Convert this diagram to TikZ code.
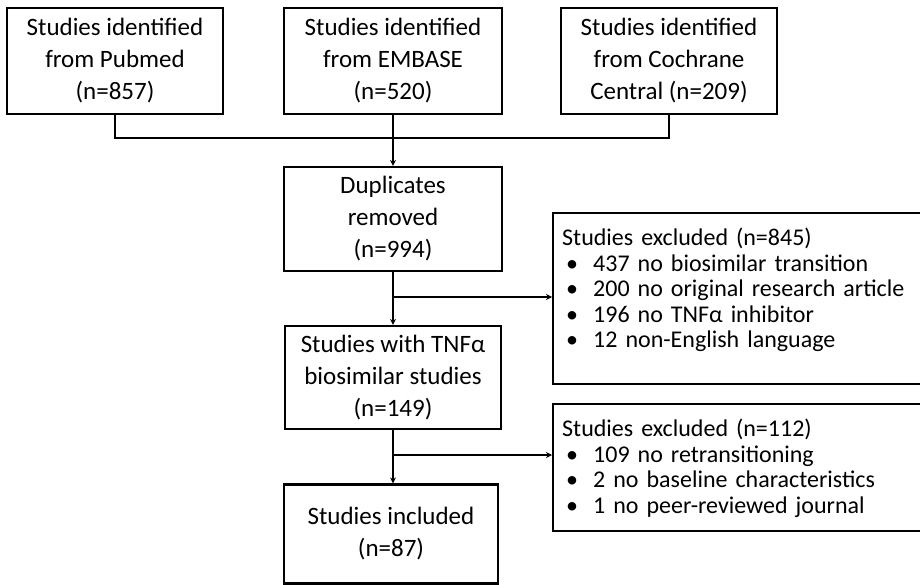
\documentclass[tikz,border=0pt]{standalone}
\usepackage{fontspec}
\setmainfont{Carlito}
\usetikzlibrary{arrows.meta}

\tikzset{
  stagebox/.style={draw, line width=2.2pt, align=center, inner sep=0pt,
    font=\fontsize{25}{32}\selectfont},
  exclbox/.style={draw, line width=2.2pt, anchor=north west, inner sep=0pt},
  excltext/.style={align=left, anchor=north west, inner sep=0pt, text width=350pt,
    font=\fontsize{24}{25.5}\selectfont},
  flow/.style={line width=2pt},
  flowarrow/.style={line width=2pt, -{Stealth[length=6pt,width=6pt]}}
}
\newcommand{\exclitem}[1]{\makebox[31pt][l]{\hspace{4pt}\textbullet}#1}

\begin{document}
\begin{tikzpicture}[x=1pt,y=-1pt]
  \useasboundingbox (0,0) rectangle (920,585);

  \node[stagebox, minimum width=216pt, minimum height=106pt] (pubmed) at (115,61)
    {Studies identified\\from Pubmed\\(n=857)};
  \node[stagebox, minimum width=218pt, minimum height=106pt] (embase) at (393,61)
    {Studies identified\\from EMBASE\\(n=520)};
  \node[stagebox, minimum width=216pt, minimum height=106pt] (cochrane) at (669,61)
    {Studies identified\\from Cochrane\\Central (n=209)};

  \node[stagebox, minimum width=218pt, minimum height=104pt] (dup) at (393,219)
    {Duplicates\\removed\\(n=994)};
  \node[stagebox, minimum width=216pt, minimum height=103pt] (tnf) at (393,377.5)
    {Studies with TNFα\\biosimilar studies\\(n=149)};
  \node[stagebox, minimum width=214pt, minimum height=99pt] (incl) at (391,534)
    {Studies included\\(n=87)};

  \node[exclbox, minimum width=373pt, minimum height=171pt] (excla) at (552,212) {};
  \node[excltext] (exclatext) at ([xshift=10pt,yshift=-16pt]excla.north west)
    {Studies excluded (n=845)\\
     \exclitem{437 no biosimilar transition}\\
     \exclitem{200 no original research article}\\
     \exclitem{196 no TNFα inhibitor}\\
     \exclitem{12 non-English language}};
  \node[exclbox, minimum width=373pt, minimum height=127pt] (exclb) at (552,403) {};
  \node[excltext] (exclbtext) at ([xshift=10pt,yshift=-16pt]exclb.north west)
    {Studies excluded (n=112)\\
     \exclitem{109 no retransitioning}\\
     \exclitem{2 no baseline characteristics}\\
     \exclitem{1 no peer-reviewed journal}};

  % merge of the three searches
  \coordinate (merge) at (393,138);
  \draw[flow] (pubmed.south) |- (merge) -| (cochrane.south);
  \draw[flowarrow] (embase.south) -- (dup.north);

  \coordinate (splita) at (393,297);
  \coordinate (splitb) at (393,455);
  \draw[flowarrow] (dup.south) -- (tnf.north);
  \draw[flowarrow] (splita) -- (splita -| excla.west);
  \draw[flowarrow] (tnf.south) -- (tnf.south |- incl.north);
  \draw[flowarrow] (splitb) -- (splitb -| exclb.west);
\end{tikzpicture}
\end{document}
